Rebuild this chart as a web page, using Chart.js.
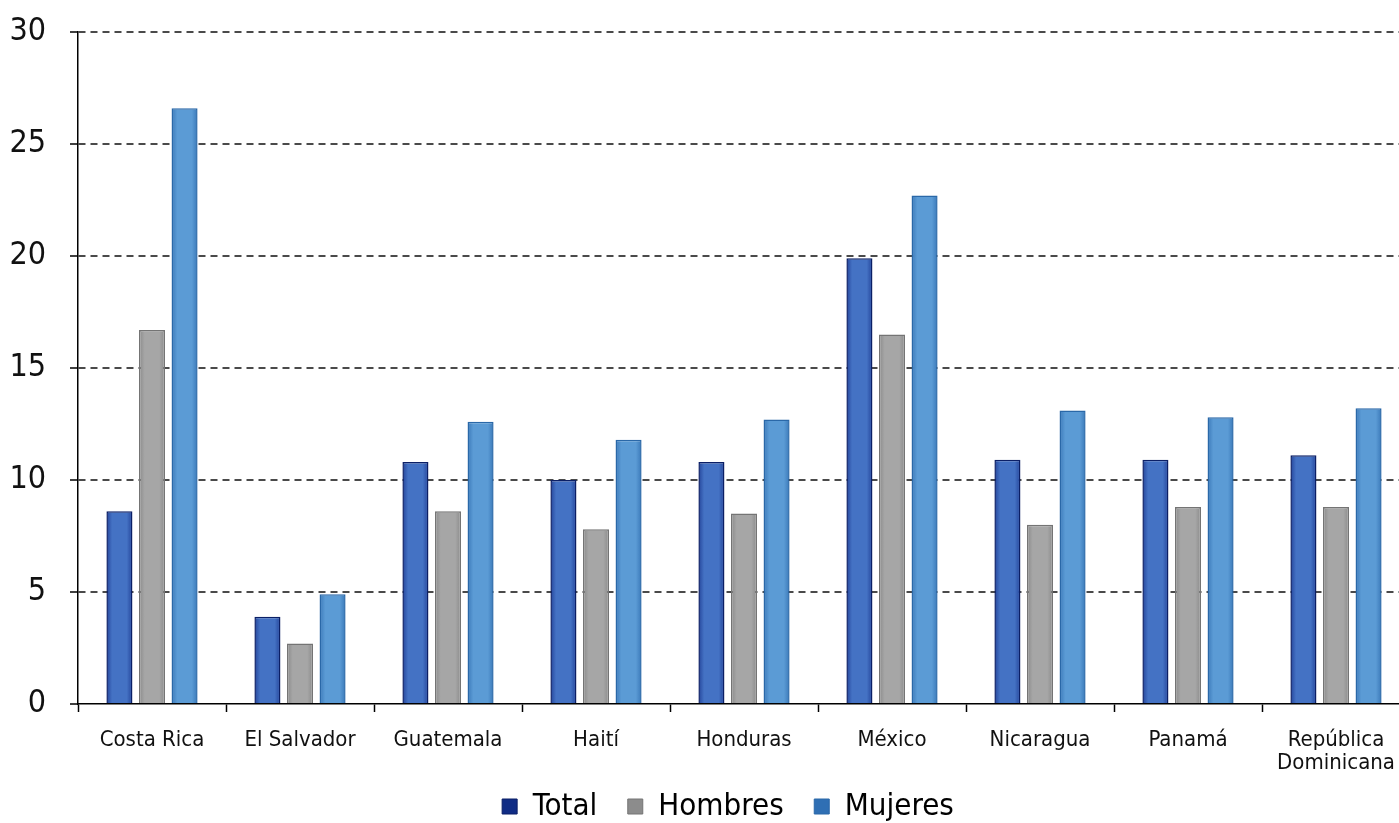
<!DOCTYPE html>
<html>
<head>
<meta charset="utf-8">
<script src="https://cdn.jsdelivr.net/npm/chart.js@4.4.1/dist/chart.umd.min.js"></script>
<style>
    html, body { margin: 0; padding: 0; background: #ffffff; overflow: hidden; }
    #wrap { width: 1456px; height: 823px; }
</style>
</head>
<body>
<div id="wrap"><canvas id="chart" width="1456" height="823"></canvas></div>
<script>

const countries = [
    "Costa Rica",
    "El Salvador",
    "Guatemala",
    "Haití",
    "Honduras",
    "México",
    "Nicaragua",
    "Panamá",
    ["República", "Dominicana"]
];

const total   = [8.6, 3.9, 10.8, 10.0, 10.8, 19.9, 10.9, 10.9, 11.1];
const hombres = [16.7, 2.7, 8.6, 7.8, 8.5, 16.5, 8.0, 8.8, 8.8];
const mujeres = [26.6, 4.9, 12.6, 11.8, 12.7, 22.7, 13.1, 12.8, 13.2];

const yTicks = [0, 5, 10, 15, 20, 25, 30];

// edge / fill / border for each series
const palette = {
    total:   { edge: "#24449a", fill: "#4472c4", border: "#0b1f66", key: "#102c85" },
    hombres: { edge: "#8a8a8a", fill: "#a6a6a6", border: "#747474", key: "#8c8c8c" },
    mujeres: { edge: "#3a78b8", fill: "#5b9bd5", border: "#2a68a8", key: "#2f6fb4" }
};

// horizontal shading across each bar, once the element has a position
function shaded(colors) {
    return (context) => {
        const meta = context.chart.getDatasetMeta(context.datasetIndex);
        const bar = meta.data[context.dataIndex];
        if (!bar || bar.x === undefined || !bar.width) {
            return colors.fill;
        }
        const g = context.chart.ctx.createLinearGradient(
            bar.x - bar.width / 2, 0, bar.x + bar.width / 2, 0
        );
        g.addColorStop(0, colors.edge);
        g.addColorStop(0.22, colors.fill);
        g.addColorStop(0.78, colors.fill);
        g.addColorStop(1, colors.edge);
        return g;
    };
}

function series(label, data, colors) {
    return {
        label,
        data,
        backgroundColor: shaded(colors),
        borderColor: colors.border,
        borderWidth: 1.5,
        categoryPercentage: 0.66,
        barPercentage: 0.8
    };
}

// nudge the legend box a little to the right and down
const legendShift = {
    id: "legendShift",
    afterLayout(chart) {
        const lg = chart.legend;
        if (!lg) return;
        lg.left += 23;
        lg.right += 23;
        lg.top += 9;
        lg.bottom += 9;
    }
};

const condensed = "'DejaVu Sans Condensed', 'DejaVu Sans', sans-serif";

const chart = new Chart(document.getElementById("chart"), {

    type: "bar",

    data: {
        labels: countries,
        datasets: [
            series("Total", total, palette.total),
            series("Hombres", hombres, palette.hombres),
            series("Mujeres", mujeres, palette.mujeres)
        ]
    },

    plugins: [legendShift],

    options: {

        responsive: false,
        animation: false,

        layout: {
            padding: { top: 32, right: 46, left: 0, bottom: 0 }
        },

        scales: {

            x: {
                grid: {
                    offset: true,
                    drawOnChartArea: false,
                    drawTicks: true,
                    tickLength: 8,
                    tickColor: "#000000",
                    tickWidth: 1.5
                },
                border: { color: "#000000", width: 1.5 },
                ticks: {
                    color: "#111111",
                    font: { family: condensed, size: 22, lineHeight: 1.05 },
                    padding: 17,
                    maxRotation: 0,
                    autoSkip: false
                },
                afterFit(scale) {
                    scale.height = 74;
                    scale.paddingLeft = 0;
                    scale.paddingRight = 0;
                }
            },

            y: {
                min: 0,
                max: 30,
                afterBuildTicks(scale) {
                    scale.ticks = yTicks.map((value) => ({ value }));
                },
                grid: {
                    color: (c) => (c.tick && c.tick.value === 0 ? "rgba(0,0,0,0)" : "#4a4a4a"),
                    lineWidth: 2,
                    drawTicks: true,
                    tickLength: 8,
                    tickColor: "#000000",
                    tickWidth: 1.5
                },
                border: { color: "#000000", width: 1.5, dash: [7, 5] },
                ticks: {
                    color: "#111111",
                    font: { family: condensed, size: 32 },
                    padding: 24
                },
                afterFit(scale) {
                    scale.width = 78;
                    scale.paddingTop = 0;
                    scale.paddingBottom = 0;
                }
            }
        },

        plugins: {

            legend: {
                position: "bottom",
                labels: {
                    color: "#111111",
                    font: { family: condensed, size: 31 },
                    boxWidth: 15,
                    boxHeight: 15,
                    padding: 4,
                    generateLabels(ch) {
                        const keys = ["total", "hombres", "mujeres"];
                        const last = ch.data.datasets.length - 1;
                        return ch.data.datasets.map((ds, i) => ({
                            // trailing spaces keep the gap between legend items
                            text: i < last ? ds.label + "   " : ds.label,
                            fillStyle: palette[keys[i]].key,
                            strokeStyle: palette[keys[i]].border,
                            lineWidth: 1,
                            datasetIndex: i,
                            hidden: !ch.isDatasetVisible(i)
                        }));
                    }
                }
            },

            tooltip: { enabled: false }
        }
    }

});

// second pass so the bar shading can read each bar's position
chart.update("none");

</script>
</body>
</html>
